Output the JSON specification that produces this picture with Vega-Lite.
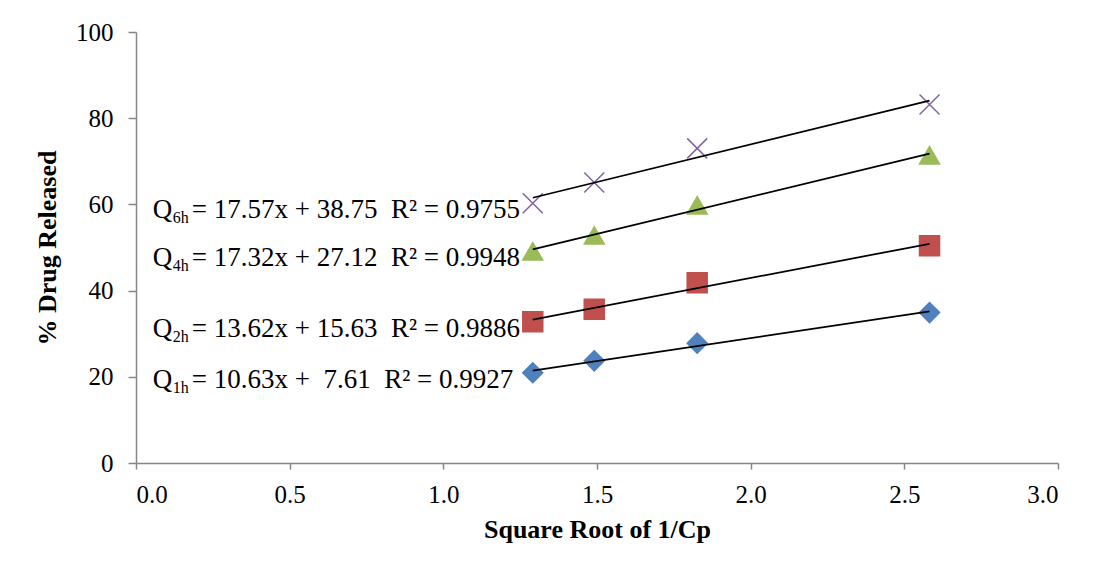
{
  "$schema": "https://vega.github.io/schema/vega-lite/v6.json",
  "autosize": {"type": "none"},
  "padding": {"left": 136, "top": 32, "right": 49, "bottom": 113},
  "width": 922,
  "height": 431,
  "background": "white",
  "config": {
    "view": {"stroke": null},
    "font": "Liberation Serif",
    "axis": {
      "grid": false,
      "domainColor": "#868686",
      "domainWidth": 1.5,
      "tickColor": "#868686",
      "tickWidth": 1.5,
      "labelFont": "Liberation Serif",
      "labelFontSize": 25,
      "labelColor": "#000000",
      "titleFont": "Liberation Serif",
      "titleFontSize": 26,
      "titleFontWeight": "bold",
      "titleColor": "#000000"
    }
  },
  "datasets": {
    "points": [
      {"series": "Q1h", "x": 1.291, "y": 20.95},
      {"series": "Q1h", "x": 1.491, "y": 23.7},
      {"series": "Q1h", "x": 1.826, "y": 27.8},
      {"series": "Q1h", "x": 2.582, "y": 34.9},
      {"series": "Q2h", "x": 1.291, "y": 32.8},
      {"series": "Q2h", "x": 1.491, "y": 35.7},
      {"series": "Q2h", "x": 1.826, "y": 41.8},
      {"series": "Q2h", "x": 2.582, "y": 50.4},
      {"series": "Q4h", "x": 1.291, "y": 49.1},
      {"series": "Q4h", "x": 1.491, "y": 52.8},
      {"series": "Q4h", "x": 1.826, "y": 59.8},
      {"series": "Q4h", "x": 2.582, "y": 71.4},
      {"series": "Q6h", "x": 1.291, "y": 60.25},
      {"series": "Q6h", "x": 1.491, "y": 65.1},
      {"series": "Q6h", "x": 1.826, "y": 73.0},
      {"series": "Q6h", "x": 2.582, "y": 83.2}
    ],
    "labels": [
      {"series": "Q1h", "sub": "1h", "eq": "\u00a0= 10.63x +\u00a0\u00a07.61\u00a0\u00a0R² = 0.9927"},
      {"series": "Q2h", "sub": "2h", "eq": "\u00a0= 13.62x + 15.63\u00a0\u00a0R² = 0.9886"},
      {"series": "Q4h", "sub": "4h", "eq": "\u00a0= 17.32x + 27.12\u00a0\u00a0R² = 0.9948"},
      {"series": "Q6h", "sub": "6h", "eq": "\u00a0= 17.57x + 38.75\u00a0\u00a0R² = 0.9755"}
    ]
  },
  "data": {"name": "points"},
  "encoding": {
    "x": {
      "field": "x", "type": "quantitative",
      "scale": {"domain": [0, 3], "nice": false},
      "axis": {
        "values": [0, 0.5, 1, 1.5, 2, 2.5, 3],
        "format": ".1f",
        "tickSize": 6,
        "labelPadding": 13,
        "title": "Square Root of 1/Cp",
        "titlePadding": 9
      }
    },
    "y": {
      "field": "y", "type": "quantitative",
      "scale": {"domain": [0, 100], "nice": false},
      "axis": {
        "values": [0, 20, 40, 60, 80, 100],
        "tickSize": 8,
        "labelPadding": 15,
        "title": "% Drug Released",
        "titlePadding": 15
      }
    }
  },
  "layer": [
    {
      "mark": {"type": "point", "filled": true, "opacity": 1, "strokeWidth": 1.5, "size": 400},
      "encoding": {
        "shape": {
          "field": "series", "type": "nominal",
          "scale": {"domain": ["Q1h", "Q2h", "Q4h", "Q6h"], "range": ["diamond", "square", "triangle-up", "M-1,-1L1,1M-1,1L1,-1"]},
          "legend": null
        },
        "color": {
          "field": "series", "type": "nominal",
          "scale": {"domain": ["Q1h", "Q2h", "Q4h", "Q6h"], "range": ["#4F81BD", "#C0504D", "#9BBB59", "#8064A2"]},
          "legend": null
        },
        "stroke": {
          "field": "series", "type": "nominal",
          "scale": {"domain": ["Q1h", "Q2h", "Q4h", "Q6h"], "range": ["#4F81BD", "#C0504D", "#9BBB59", "#8064A2"]},
          "legend": null
        }
      }
    },
    {
      "transform": [{"regression": "y", "on": "x", "groupby": ["series"], "method": "linear"}],
      "mark": {"type": "line", "color": "#000000", "strokeWidth": 1.75},
      "encoding": {"detail": {"field": "series", "type": "nominal"}}
    },
    {
      "transform": [
        {"filter": "datum.x < 1.3"},
        {"lookup": "series", "from": {"data": {"name": "labels"}, "key": "series", "fields": ["sub", "eq"]}}
      ],
      "layer": [
        {
          "mark": {"type": "text", "align": "left", "baseline": "alphabetic", "dx": -380, "dy": 15, "fontSize": 27, "color": "#000000"},
          "encoding": {"text": {"value": "Q"}}
        },
        {
          "mark": {"type": "text", "align": "left", "baseline": "alphabetic", "dx": -360, "dy": 20, "fontSize": 16, "color": "#000000"},
          "encoding": {"text": {"field": "sub"}}
        },
        {
          "mark": {"type": "text", "align": "left", "baseline": "alphabetic", "dx": -341, "dy": 15, "fontSize": 27, "color": "#000000"},
          "encoding": {"text": {"field": "eq"}}
        }
      ]
    }
  ]
}
